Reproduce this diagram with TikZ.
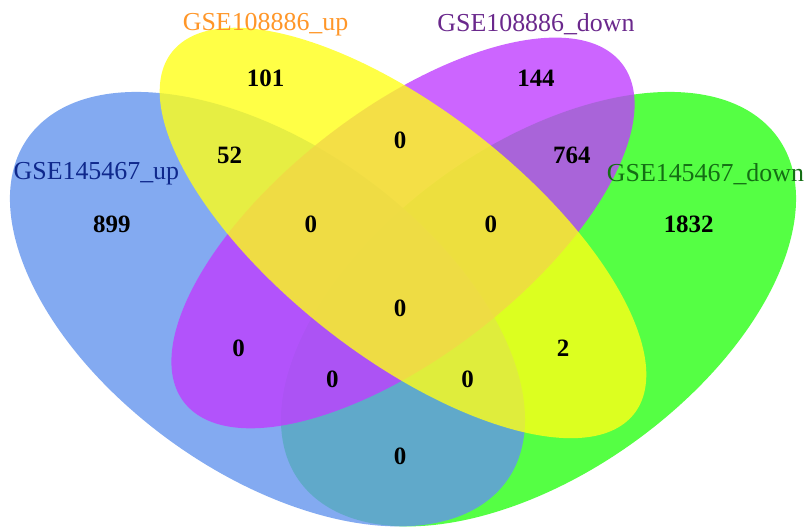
\documentclass[tikz,border=0pt]{standalone}
\usepackage{fontspec}
\setmainfont{Liberation Serif}
\definecolor{cgreen}{RGB}{42,255,21}
\definecolor{cblue}{RGB}{100,149,237}
\definecolor{cpurple}{RGB}{191,62,255}
\definecolor{cyellow}{RGB}{255,255,24}
\definecolor{tup}{RGB}{255,150,40}
\definecolor{tdown}{RGB}{106,40,140}
\definecolor{tblue}{RGB}{15,40,140}
\definecolor{tgreen}{RGB}{20,110,20}
\begin{document}
\begin{tikzpicture}[x=0.03cm,y=-0.03cm,
  num/.style={font=\fontsize{21.3}{24}\selectfont\bfseries, inner sep=0pt},
  lab/.style={font=\fontsize{22.1}{26}\selectfont, inner sep=0pt},
  setfill/.style={fill opacity=0.8}]
\useasboundingbox (0,0) rectangle (804,527);
\begin{scope}[shift={(-48.7,667.3)}, xscale=903.4, yscale=-762]
  \fill[cgreen, setfill, rotate around={135:(0.65,0.47)}] (0.65,0.47) ellipse [x radius=0.35, y radius=0.20];
  \fill[cblue, setfill, rotate around={45:(0.35,0.47)}] (0.35,0.47) ellipse [x radius=0.35, y radius=0.20];
  \fill[cpurple, setfill, rotate around={135:(0.5,0.57)}] (0.5,0.57) ellipse [x radius=0.33, y radius=0.15];
  \fill[cyellow, setfill, rotate around={45:(0.5,0.57)}] (0.5,0.57) ellipse [x radius=0.35, y radius=0.15];
\end{scope}
\node[lab, text=tup] (lA) at (265.6,24.2) {GSE108886\_up};
\node[lab, text=tdown] (lB) at (536,24.2) {GSE108886\_down};
\node[lab, text=tblue] (lC) at (96.4,174) {GSE145467\_up};
\node[lab, text=tgreen, anchor=west] (lD) at (606.7,174) {GSE145467\_down};
\node[num] (n1) at (265.6,78) {101};
\node[num] (n2) at (536,78) {144};
\node[num] (n3) at (400,140.5) {0};
\node[num] (n4) at (229.7,155.3) {52};
\node[num] (n5) at (571.8,155.3) {764};
\node[num] (n6) at (111.8,224.5) {899};
\node[num] (n7) at (310.8,224.5) {0};
\node[num] (n8) at (490.8,224.5) {0};
\node[num] (n9) at (688.7,224.5) {1832};
\node[num] (n10) at (400,308.6) {0};
\node[num] (n11) at (238.5,347.9) {0};
\node[num] (n12) at (563,347.9) {2};
\node[num] (n13) at (332.3,379.8) {0};
\node[num] (n14) at (467.7,379.8) {0};
\node[num] (n15) at (400,456.5) {0};
\end{tikzpicture}
\end{document}
